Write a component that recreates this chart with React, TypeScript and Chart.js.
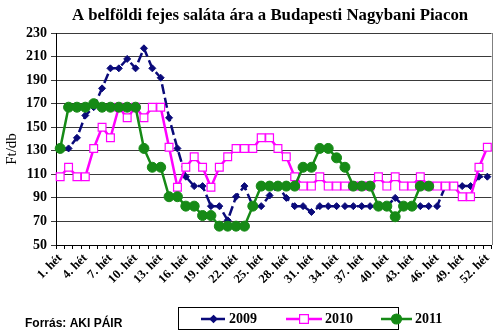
import React, { useEffect, useRef } from "react";
import { Chart, registerables } from "chart.js";

Chart.register(...registerables);

const TITLE = "A belföldi fejes saláta ára a Budapesti Nagybani Piacon";
const Y_TITLE = "Ft/db";
const SOURCE = "Forrás: AKI PÁIR";

const weeks: string[] = Array.from({ length: 52 }, (_, i) => `${i + 1}. hét`);

const series2009: (number | null)[] = [
  132, 132, 141, 160, 167, 183, 200, 200, 208, 200, 217, 200, 192, 158, 132, 108, 100, 100, 83, 83,
  71, 91, 100, 83, 83, 92, 100, 90, 83, 83, 78, 83, 83, 83, 83, 83, 83, 83, 83, 83,
  90, 83, 83, 83, 83, 83, 100, 100, 100, 100, 108, 108,
];
const series2010: (number | null)[] = [
  108, 116, 108, 108, 132, 150, 141, 167, 158, 167, 158, 167, 167, 133, 99, 116, 125, 116, 99, 116,
  125, 132, 132, 132, 141, 141, 132, 125, 108, 100, 100, 108, 100, 100, 100, 100, 100, 100, 108, 100,
  108, 100, 100, 108, 100, 100, 100, 100, 91, 91, 116, 133,
];
const series2011: (number | null)[] = [
  132, 167, 167, 167, 170, 167, 167, 167, 167, 167, 132, 116, 116, 91, 91, 83, 83, 75, 75, 66,
  66, 66, 66, 83, 100, 100, 100, 100, 100, 116, 116, 132, 132, 124, 116, 100, 100, 100, 83, 83,
  74, 83, 83, 100, 100, null, null, null, null, null, null, null,
];
const seriesNames = ["2009", "2010", "2011"];

const C2009 = "#0a0a7a";
const C2010 = "#ff00ff";
const C2011 = "#168a16";

const SERIF = '"Liberation Serif", "Times New Roman", serif';
const SANS = '"Liberation Sans", Arial, sans-serif';

const overlay = {
  id: "overlay",
  afterDraw(chart: any) {
    const ctx = chart.ctx as CanvasRenderingContext2D;
    const ca = chart.chartArea;
    ctx.save();
    // plot-area right border
    ctx.strokeStyle = "#808080";
    ctx.lineWidth = 1;
    ctx.beginPath();
    const rx = Math.round(ca.right) + 0.5;
    ctx.moveTo(rx, ca.top);
    ctx.lineTo(rx, ca.bottom);
    ctx.stroke();

    // title, sized to span the same width as the reference
    ctx.fillStyle = "#000";
    ctx.font = `bold 16px ${SERIF}`;
    const w16 = ctx.measureText(TITLE).width;
    const fs = Math.max(12, Math.min(20, (16 * 396) / w16));
    ctx.font = `bold ${fs.toFixed(1)}px ${SERIF}`;
    ctx.textAlign = "center";
    ctx.textBaseline = "middle";
    ctx.fillText(TITLE, 270, 16);

    // y title
    ctx.save();
    ctx.translate(12, 149);
    ctx.rotate(-Math.PI / 2);
    ctx.font = `15px ${SERIF}`;
    ctx.fillText(Y_TITLE, 0, 0);
    ctx.restore();

    // source
    ctx.font = `bold 12px ${SANS}`;
    ctx.textAlign = "left";
    ctx.fillText(SOURCE, 25, 324);

    // legend box
    ctx.strokeStyle = "#000";
    ctx.lineWidth = 1;
    ctx.strokeRect(178.5, 307.5, 220, 22);
    const ly = 319;
    const items = [
      { x0: 201, x1: 226, tx: 229 },
      { x0: 286, x1: 322, tx: 325 },
      { x0: 381, x1: 412, tx: 415 },
    ];
    chart.data.datasets.forEach((ds: any, i: number) => {
      const it = items[i];
      ctx.save();
      ctx.strokeStyle = ds.borderColor;
      ctx.lineWidth = ds.borderWidth;
      ctx.setLineDash(ds.borderDash || []);
      ctx.beginPath();
      ctx.moveTo(it.x0, ly);
      ctx.lineTo(it.x1, ly);
      ctx.stroke();
      ctx.setLineDash([]);
      const mx = (it.x0 + it.x1) / 2;
      ctx.fillStyle = ds.pointBackgroundColor;
      ctx.strokeStyle = ds.pointBorderColor;
      ctx.lineWidth = 1.2;
      const r = ds.pointRadius;
      ctx.beginPath();
      if (ds.pointStyle === "rectRot") {
        ctx.moveTo(mx, ly - r);
        ctx.lineTo(mx + r, ly);
        ctx.lineTo(mx, ly + r);
        ctx.lineTo(mx - r, ly);
        ctx.closePath();
      } else if (ds.pointStyle === "rect") {
        const h = r * 0.8;
        ctx.rect(mx - h, ly - h, 2 * h, 2 * h);
      } else {
        ctx.arc(mx, ly, r, 0, Math.PI * 2);
      }
      ctx.fill();
      ctx.stroke();
      ctx.restore();
      ctx.fillStyle = "#000";
      ctx.font = `bold 14px ${SERIF}`;
      ctx.textAlign = "left";
      ctx.textBaseline = "middle";
      ctx.fillText(seriesNames[i], it.tx, ly);
    });
    ctx.restore();
  },
};

export default function App() {
  const ref = useRef<HTMLCanvasElement | null>(null);
  useEffect(() => {
    document.body.style.margin = "0";
    const canvas = ref.current!;
    const chart = new Chart(canvas, {
      type: "line",
      data: {
        labels: weeks,
        datasets: [
          {
            label: seriesNames[0],
            data: series2009,
            borderColor: C2009,
            backgroundColor: C2009,
            borderWidth: 2.5,
            borderDash: [10, 4],
            pointStyle: "rectRot",
            pointRadius: 3.5,
            pointBackgroundColor: C2009,
            pointBorderColor: C2009,
            pointBorderWidth: 1,
            tension: 0,
            order: 3,
          },
          {
            label: seriesNames[1],
            data: series2010,
            borderColor: C2010,
            backgroundColor: "#ffffff",
            borderWidth: 2.5,
            pointStyle: "rect",
            pointRadius: 5.5,
            pointBackgroundColor: "#ffffff",
            pointBorderColor: C2010,
            pointBorderWidth: 1.2,
            tension: 0,
            order: 2,
          },
          {
            label: seriesNames[2],
            data: series2011,
            borderColor: C2011,
            backgroundColor: C2011,
            borderWidth: 2.5,
            pointStyle: "circle",
            pointRadius: 5,
            pointBackgroundColor: C2011,
            pointBorderColor: C2011,
            pointBorderWidth: 1,
            tension: 0,
            order: 1,
          },
        ],
      },
      options: {
        responsive: false,
        animation: false,
        layout: { padding: { top: 33, left: 0, right: 4, bottom: 0 } },
        plugins: {
          legend: { display: false },
          title: { display: false },
          tooltip: { enabled: false },
        },
        scales: {
          x: {
            type: "category",
            offset: true,
            afterFit: (s: any) => {
              s.height = 89;
            },
            border: { color: "#000", width: 1 },
            grid: {
              offset: true,
              drawOnChartArea: false,
              drawTicks: true,
              tickLength: 4,
              color: "#000",
            },
            ticks: {
              autoSkip: false,
              maxRotation: 45,
              minRotation: 45,
              padding: 2,
              color: "#000",
              font: { family: SERIF, size: 12.5, weight: "bold" },
              callback: (_v: any, idx: number) => (idx % 3 === 0 ? weeks[idx] : ""),
            },
          },
          y: {
            min: 50,
            max: 230,
            afterFit: (s: any) => {
              s.width = 56;
            },
            border: { color: "#000", width: 1 },
            grid: {
              color: "#3a3a3a",
              lineWidth: 1,
              drawTicks: true,
              tickLength: 5,
            },
            ticks: {
              stepSize: 20,
              padding: 4,
              color: "#000",
              font: { family: SERIF, size: 14, weight: "bold" },
            },
          },
        },
      },
      plugins: [overlay],
    } as any);
    return () => chart.destroy();
  }, []);
  return (
    <div style={{ position: "absolute", left: 0, top: 0, width: 500, height: 334 }}>
      <canvas ref={ref} width={500} height={334} style={{ width: 500, height: 334 }} />
    </div>
  );
}
